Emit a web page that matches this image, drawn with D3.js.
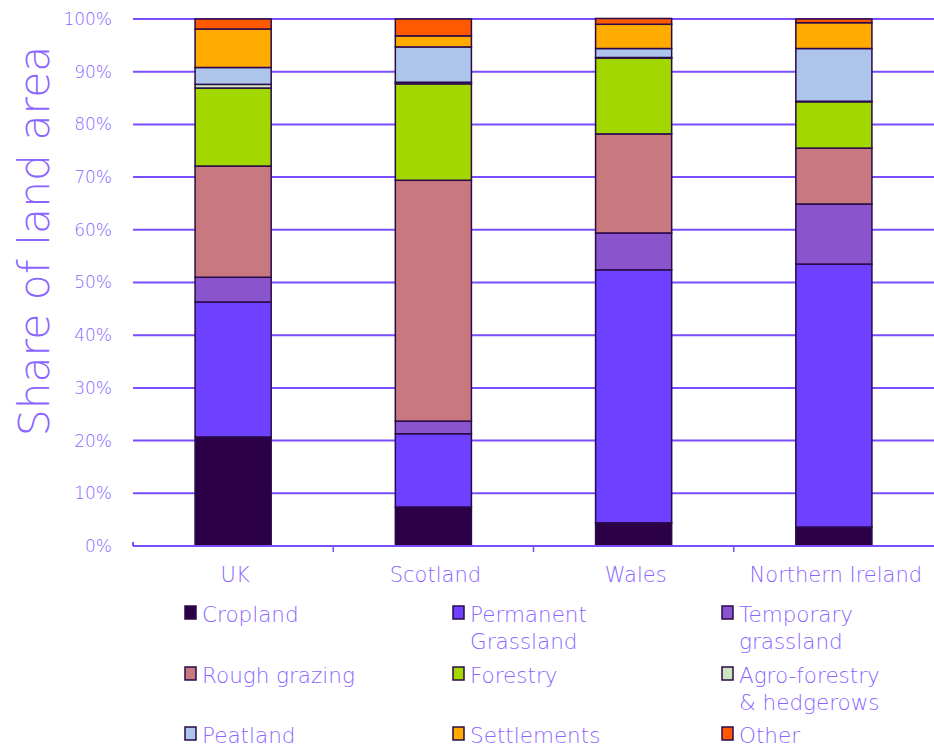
<!DOCTYPE html>
<html><head><meta charset="utf-8">
<script src="https://cdn.jsdelivr.net/npm/d3@7"></script>
<style>body{margin:0;background:#fff}svg{display:block}text{font-family:"DejaVu Sans",sans-serif;font-weight:200}</style>
</head><body><svg id="c" width="934" height="747"></svg>
<script>
const categories = ["UK","Scotland","Wales","Northern Ireland"];
const seriesNames = ["Cropland","Permanent Grassland","Temporary grassland","Rough grazing","Forestry","Agro-forestry & hedgerows","Peatland","Settlements","Other"];
const legendLines = [["Cropland"],["Permanent","Grassland"],["Temporary","grassland"],["Rough grazing"],["Forestry"],["Agro-forestry","& hedgerows"],["Peatland"],["Settlements"],["Other"]];
const colors = ["#2b0046","#6e40ff","#8a55cc","#c8787f","#a3d700","#cde6bf","#adc5ea","#ffab00","#ff5a00"];
const cropland   = [20.7, 7.4, 4.4, 3.6];
const permGrass  = [25.6, 13.9, 48.0, 49.9];
const tempGrass  = [4.7, 2.4, 7.0, 11.4];
const rough      = [21.1, 45.7, 18.8, 10.6];
const forestry   = [14.8, 18.3, 14.4, 8.8];
const agro       = [0.7, 0.3, 0.1, 0.1];
const peatland   = [3.2, 6.7, 1.7, 10.0];
const settlements= [7.3, 2.1, 4.6, 4.9];
const other      = [1.9, 3.2, 1.1, 0.7];
const yTicks = [0,10,20,30,40,50,60,70,80,90,100];
const series = [cropland,permGrass,tempGrass,rough,forestry,agro,peatland,settlements,other];

const txt = "#8a66ff";
const svg = d3.select("#c");
const m = {l:133, r:934, t:19, b:546};
const x = d3.scaleBand().domain(categories).range([m.l, m.r]).paddingInner(0.62).paddingOuter(0.31);
const y = d3.scaleLinear().domain([0,100]).range([m.b, m.t]);

// gridlines
svg.append("g").selectAll("line").data(yTicks.filter(d=>d>0)).join("line")
  .attr("x1", m.l).attr("x2", m.r).attr("y1", d=>y(d)).attr("y2", d=>y(d))
  .attr("stroke", "#7a4dff").attr("stroke-width", 2);

// y tick labels
svg.append("g").selectAll("text").data(yTicks).join("text")
  .attr("x", 112).attr("y", d=>y(d)).attr("dy","0.35em").attr("text-anchor","end")
  .attr("fill", txt).attr("font-size", 17).text(d=>d+"%");

// stacked bars
const rows = categories.map((c,i)=>{const o={cat:c}; seriesNames.forEach((s,j)=>o[s]=series[j][i]); return o;});
const stack = d3.stack().keys(seriesNames)(rows);
svg.append("g").selectAll("g").data(stack).join("g")
  .attr("fill", (d,i)=>colors[i])
  .selectAll("rect").data(d=>d).join("rect")
  .attr("x", d=>x(d.data.cat)).attr("width", x.bandwidth())
  .attr("y", d=>y(d[1])).attr("height", d=>y(d[0])-y(d[1]))
  .attr("stroke", "#2a0a4a").attr("stroke-width", 1.5);

// x axis
const xa = svg.append("g");
xa.append("line").attr("x1", m.l).attr("x2", m.r).attr("y1", m.b).attr("y2", m.b).attr("stroke","#7a4dff").attr("stroke-width",2);
xa.append("line").attr("x1", m.l).attr("x2", m.l).attr("y1", m.b-4).attr("y2", m.b).attr("stroke","#7a4dff").attr("stroke-width",2);
const step = x.step();
categories.slice(1).forEach(c=>{
  const xx = x(c)-(step-x.bandwidth())/2;
  xa.append("line").attr("x1", xx).attr("x2", xx)
    .attr("y1", m.b).attr("y2", m.b+6).attr("stroke","#7a4dff").attr("stroke-width",1.5);
});
xa.selectAll("text").data(categories).join("text")
  .attr("x", d=>x(d)+x.bandwidth()/2+2).attr("y", 582).attr("text-anchor","middle")
  .attr("fill", txt).attr("font-size", 21).text(d=>d);

// y title
svg.append("text").attr("transform","translate(49,241) rotate(-90)").attr("text-anchor","middle")
  .attr("fill", txt).attr("font-size", 42.5).text("Share of land area");

// legend
const colX = [185, 453, 722];
const rowY = [614, 675, 735];
legendLines.forEach((lines,i)=>{
  const g = svg.append("g").attr("transform", `translate(${colX[i%3]},${rowY[Math.floor(i/3)]})`);
  g.append("rect").attr("x",0).attr("y",-8).attr("width",11).attr("height",13)
    .attr("fill", colors[i]).attr("stroke","#2a0a4a").attr("stroke-width",1.5);
  lines.forEach((l,k)=>g.append("text").attr("x",17).attr("y",k*27).attr("dy","0.35em")
    .attr("fill", txt).attr("font-size", 21.5).text(l));
});
</script></body></html>
